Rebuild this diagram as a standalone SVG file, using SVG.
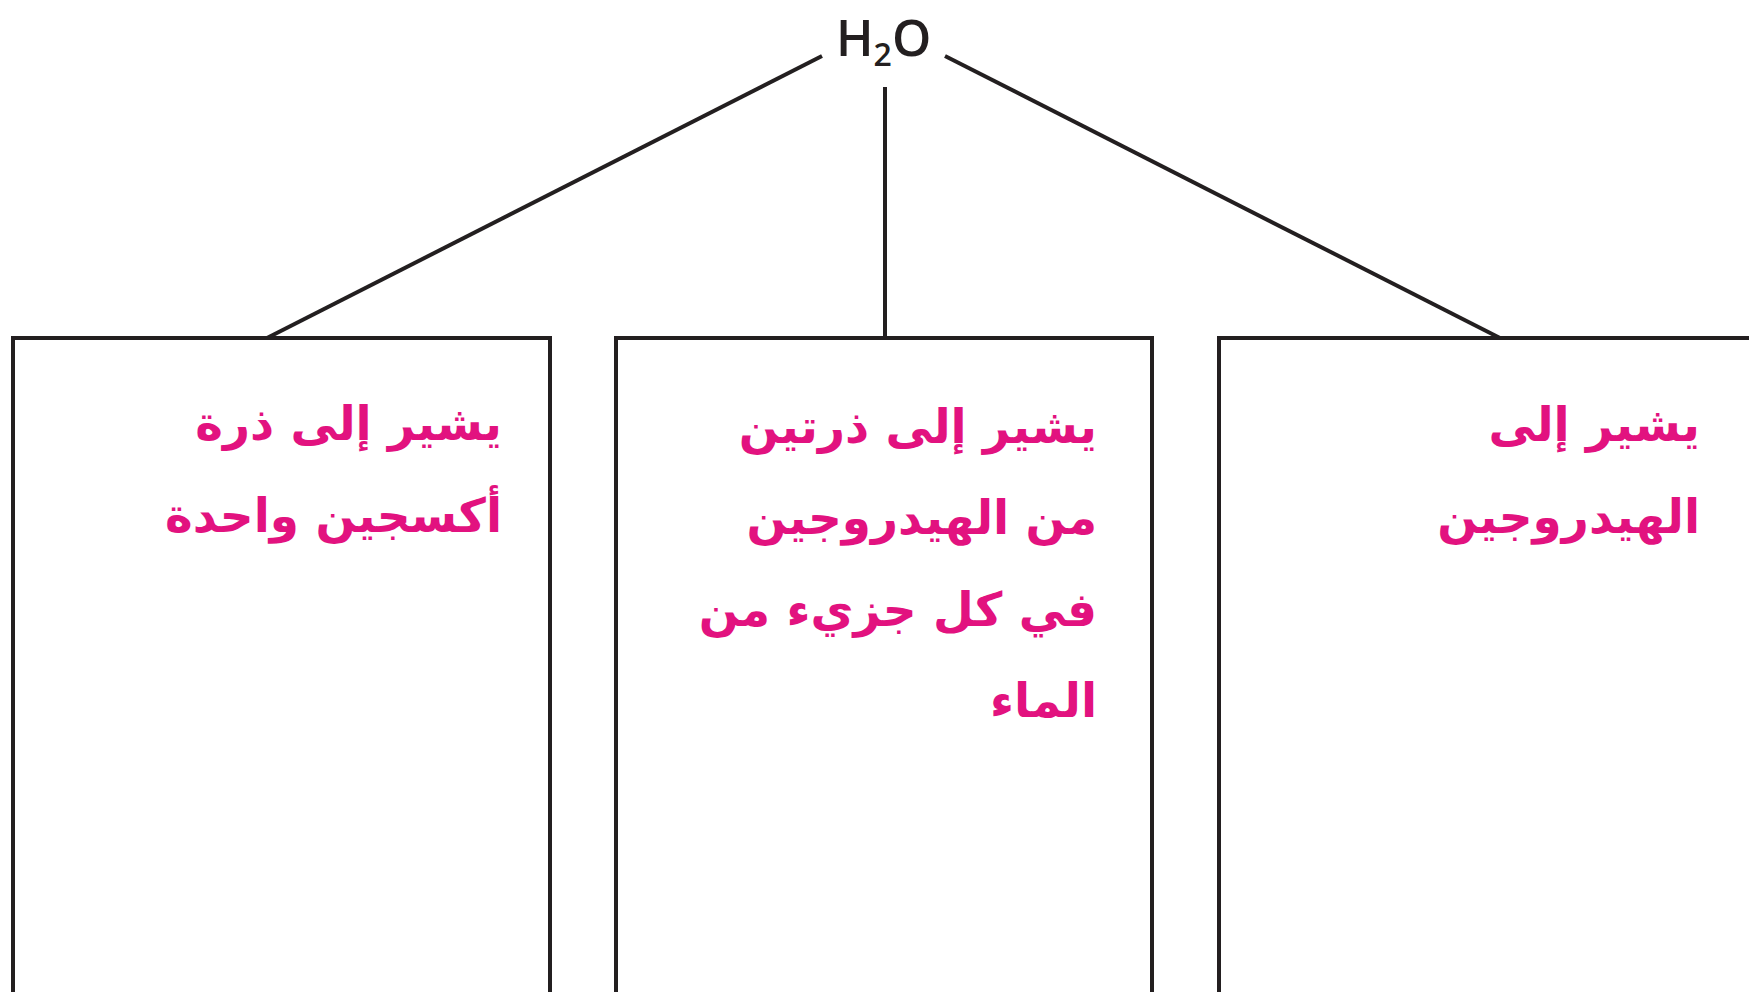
<svg xmlns="http://www.w3.org/2000/svg" width="1749" height="992" viewBox="0 0 1749 992">
  <style>
    .box { fill: #ffffff; stroke: #231f20; stroke-width: 4; }
    .link { fill: none; stroke: #231f20; stroke-width: 4; }
    .formula { font-family: "Open Sans", "Noto Sans", sans-serif; font-weight: 600; font-size: 50px; fill: #231f20; }
    .note { font-family: "DejaVu Sans", sans-serif; font-weight: bold; font-size: 47px; fill: #e2127f; text-anchor: end; }
  </style>
  <rect width="1749" height="992" fill="#ffffff"/>

  <!-- root formula -->
  <g id="root">
    <text class="formula" x="836" y="56">H<tspan font-size="32" dy="10">2</tspan><tspan dy="-10">O</tspan></text>
  </g>

  <!-- branches from the formula to the three boxes -->
  <g id="connectors">
    <line class="link" x1="822" y1="56" x2="267" y2="338"/>
    <line class="link" x1="885" y1="87" x2="885" y2="338"/>
    <line class="link" x1="945" y1="56" x2="1500" y2="338"/>
  </g>

  <g id="oxygen-box">
    <rect class="box" x="13" y="338" width="537" height="660"/>
    <text class="note" x="502" y="440">يشير إلى ذرة</text>
    <text class="note" x="502" y="532">أكسجين واحدة</text>
  </g>

  <g id="subscript-box">
    <rect class="box" x="616" y="338" width="536" height="660"/>
    <text class="note" x="1097" y="443">يشير إلى ذرتين</text>
    <text class="note" x="1097" y="534">من الهيدروجين</text>
    <text class="note" x="1097" y="626">في كل جزيء من</text>
    <text class="note" x="1097" y="717">الماء</text>
  </g>

  <g id="hydrogen-box">
    <rect class="box" x="1219" y="338" width="560" height="660"/>
    <text class="note" x="1700" y="441">يشير إلى</text>
    <text class="note" x="1700" y="533">الهيدروجين</text>
  </g>
</svg>
